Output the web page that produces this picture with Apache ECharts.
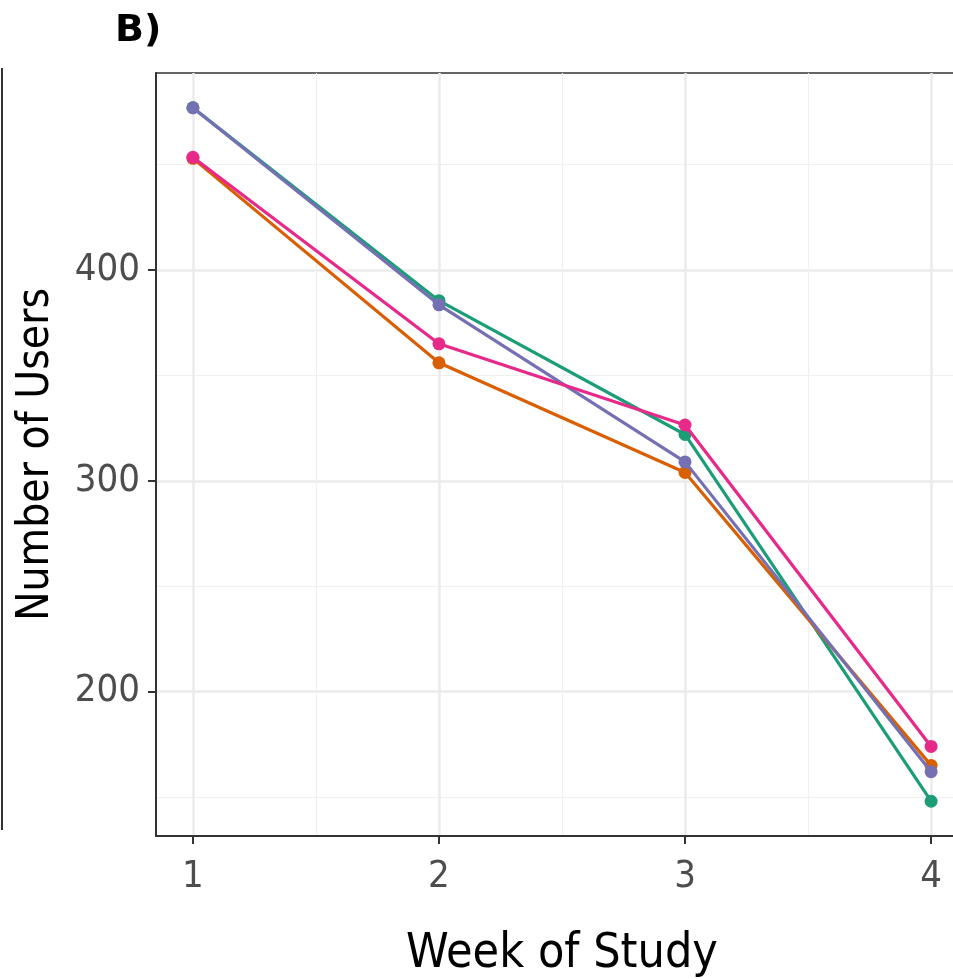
<!DOCTYPE html>
<html>
<head>
<meta charset="utf-8">
<script src="https://cdn.jsdelivr.net/npm/echarts@6/dist/echarts.min.js"></script>
<style>
  html, body { margin: 0; padding: 0; background: #fff; }
  #chart { width: 953px; height: 979px; }
</style>
</head>
<body>
<div id="chart"></div>
<script>
// weeks and user counts per group
const weeks = [1, 2, 3, 4];
const groupA = [477, 385.5, 322, 148];   // green
const groupB = [453, 356, 304, 165];     // orange
const groupC = [477, 383.5, 309, 162];   // purple
const groupD = [453.5, 365, 326.5, 174]; // pink

const seriesNames = ['A', 'B', 'C', 'D'];
const seriesValues = [groupA, groupB, groupC, groupD];
const colors = ['#1B9E77', '#D95F02', '#7570B3', '#E7298A'];

const xMajor = [1, 2, 3, 4];
const xMinor = [1.5, 2.5, 3.5];
const yMajor = [200, 300, 400];
const yMinor = [150, 250, 350, 450];

const FONT = '"Liberation Sans Narrow", "DejaVu Sans Condensed", "Liberation Sans", sans-serif';

const chart = echarts.init(document.getElementById('chart'));

function pairs(vals) {
  return weeks.map((w, i) => [w, vals[i]]);
}

option = {
  animation: false,
  backgroundColor: '#fff',
  title: {
    text: 'B)',
    left: 110,
    top: 7,
    textStyle: { fontFamily: 'DejaVu Sans', fontWeight: 900, fontSize: 38, color: '#000' }
  },
  grid: {
    left: 156, top: 73, width: 812, height: 763,
    outerBoundsMode: 'none',
    containLabel: false,
    show: true, borderColor: '#333', borderWidth: 1.5, backgroundColor: 'transparent'
  },
  xAxis: [
    {
      type: 'value', min: 0.85, max: 4.15,
      name: 'Week of Study', nameLocation: 'middle', nameGap: 95,
      nameTextStyle: { fontFamily: FONT, fontSize: 48, color: '#000' },
      axisLine: { show: true, lineStyle: { color: '#333', width: 2 } },
      axisTick: { show: true, length: 8, customValues: xMajor, lineStyle: { color: '#333', width: 2 } },
      axisLabel: { customValues: xMajor, margin: 22, fontFamily: FONT, fontSize: 38, color: '#4d4d4d' },
      splitLine: { show: true, lineStyle: { color: '#ebebeb', width: 2.5 } }
    },
    {
      type: 'value', min: 0.85, max: 4.15, position: 'bottom',
      axisLine: { show: false }, axisTick: { show: false, customValues: xMinor },
      axisLabel: { show: false, customValues: xMinor },
      splitLine: { show: true, lineStyle: { color: '#f0f0f0', width: 1.2 } }
    }
  ],
  yAxis: [
    {
      type: 'value', min: 131.5, max: 493.5,
      name: 'Number of Users', nameLocation: 'middle', nameGap: 97,
      nameTextStyle: { fontFamily: FONT, fontSize: 44, color: '#000' },
      axisLine: { show: true, lineStyle: { color: '#333', width: 2 } },
      axisTick: { show: true, length: 8, customValues: yMajor, lineStyle: { color: '#333', width: 2 } },
      axisLabel: { customValues: yMajor, margin: 16, fontFamily: FONT, fontSize: 38, color: '#4d4d4d' },
      splitLine: { show: true, lineStyle: { color: '#ebebeb', width: 2.5 } }
    },
    {
      type: 'value', min: 131.5, max: 493.5, position: 'left',
      axisLine: { show: false }, axisTick: { show: false, customValues: yMinor },
      axisLabel: { show: false, customValues: yMinor },
      splitLine: { show: true, lineStyle: { color: '#f0f0f0', width: 1.2 } }
    }
  ],
  graphic: [
    {
      type: 'line', silent: true,
      shape: { x1: 2, y1: 68, x2: 2, y2: 830 },
      style: { stroke: '#333', lineWidth: 2 }
    }
  ],
  series: seriesNames.map((name, i) => ({
    name: name,
    type: 'line',
    xAxisIndex: 0, yAxisIndex: 0,
    data: pairs(seriesValues[i]),
    symbol: 'circle', symbolSize: 13,
    lineStyle: { color: colors[i], width: 3.2 },
    itemStyle: { color: colors[i] },
    z: 3 + i
  }))
};

chart.setOption(option);
</script>
</body>
</html>
